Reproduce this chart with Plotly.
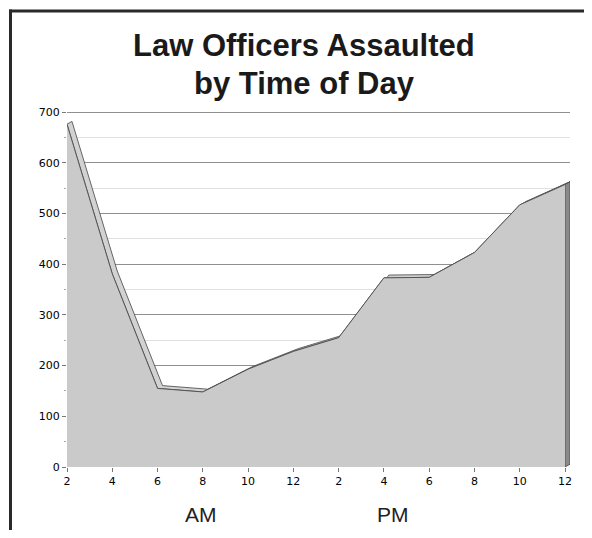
import plotly.graph_objects as go

# ---- data ----
hour_labels = ["2", "4", "6", "8", "10", "12", "2", "4", "6", "8", "10", "12"]
assaults = [676, 381, 155, 148, 193, 228, 255, 373, 374, 423, 517, 557]
y_ticks = [0, 100, 200, 300, 400, 500, 600, 700]
title_lines = ["Law Officers Assaulted", "by Time of Day"]
period_labels = ["AM", "PM"]

# ---- pseudo-3D depth (data units) ----
DX = 0.11
DY = 5.5

x = list(range(len(assaults)))
xb = [v + DX for v in x]
yb = [v + DY for v in assaults]

fig = go.Figure()

# top band (depth surface)
band_x = x + xb[::-1] + [x[0]]
band_y = assaults + yb[::-1] + [assaults[0]]
fig.add_trace(go.Scatter(x=band_x, y=band_y, fill="toself", mode="lines",
                         fillcolor="#d2d2d2", line=dict(color="#444444", width=0.8),
                         hoverinfo="skip", showlegend=False))

# right side face
last = len(assaults) - 1
fig.add_trace(go.Scatter(x=[x[last], xb[last], xb[last], x[last], x[last]],
                         y=[0, DY, yb[last], assaults[last], 0],
                         fill="toself", mode="lines", fillcolor="#8a8a8a",
                         line=dict(color="#444444", width=0.8),
                         hoverinfo="skip", showlegend=False))

# front area
fig.add_trace(go.Scatter(x=x, y=assaults, fill="tozeroy", mode="lines",
                         fillcolor="#cacaca", line=dict(color="#555555", width=1),
                         showlegend=False))

OFF = 8  # page body margin
T, B = 111 - OFF, 63
L = 67 - OFF
W = 592 - OFF
R = W - L - 503
H = T + 356 + B
pw, ph = W - L - R, H - T - B

def px_x(p):  # page x -> paper
    return (p - OFF - L) / pw

def px_y(p):  # page y -> paper
    return (H - B - (p - OFF)) / ph

annotations = [
    dict(text="<b>" + title_lines[0] + "</b>", x=px_x(304), y=px_y(46)),
    dict(text="<b>" + title_lines[1] + "</b>", x=px_x(304), y=px_y(83)),
    dict(text=period_labels[0], x=px_x(201), y=px_y(515)),
    dict(text=period_labels[1], x=px_x(393), y=px_y(515)),
]
for i, a in enumerate(annotations):
    a.update(xref="paper", yref="paper", xanchor="center", yanchor="middle",
             showarrow=False,
             font=dict(family="Liberation Sans", size=31 if i < 2 else 21,
                       color="#1a1a1a" if i < 2 else "#222222"))

shapes = [
    dict(type="line", xref="paper", yref="paper",
         x0=px_x(10.5), x1=px_x(10.5), y0=px_y(537), y1=px_y(9.5),
         line=dict(color="#2a2a2a", width=3)),
    dict(type="line", xref="paper", yref="paper",
         x0=px_x(9), x1=px_x(591), y0=px_y(11), y1=px_y(11),
         line=dict(color="#2a2a2a", width=3)),
]

fig.update_layout(
    width=W, height=H,
    margin=dict(l=L, r=R, t=T, b=B, pad=0),
    paper_bgcolor="white", plot_bgcolor="white",
    annotations=annotations, shapes=shapes,
    xaxis=dict(range=[0, len(assaults) - 1 + DX], tickmode="array", tickvals=x,
               ticktext=hour_labels, ticks="outside", ticklen=4, tickcolor="#777777",
               showgrid=False, zeroline=False, showline=False,
               tickfont=dict(family="DejaVu Sans", size=11, color="#000000")),
    yaxis=dict(range=[0, 702], tickmode="array", tickvals=y_ticks,
               ticks="outside", ticklen=4, tickcolor="#777777",
               showgrid=True, gridcolor="#909090", gridwidth=1,
               zeroline=False, showline=False,
               minor=dict(dtick=50, showgrid=True, gridcolor="#e0e0e0",
                          ticks="outside", ticklen=2, tickcolor="#aaaaaa"),
               tickfont=dict(family="DejaVu Sans", size=11, color="#000000")),
)

fig.write_html("out.html")
